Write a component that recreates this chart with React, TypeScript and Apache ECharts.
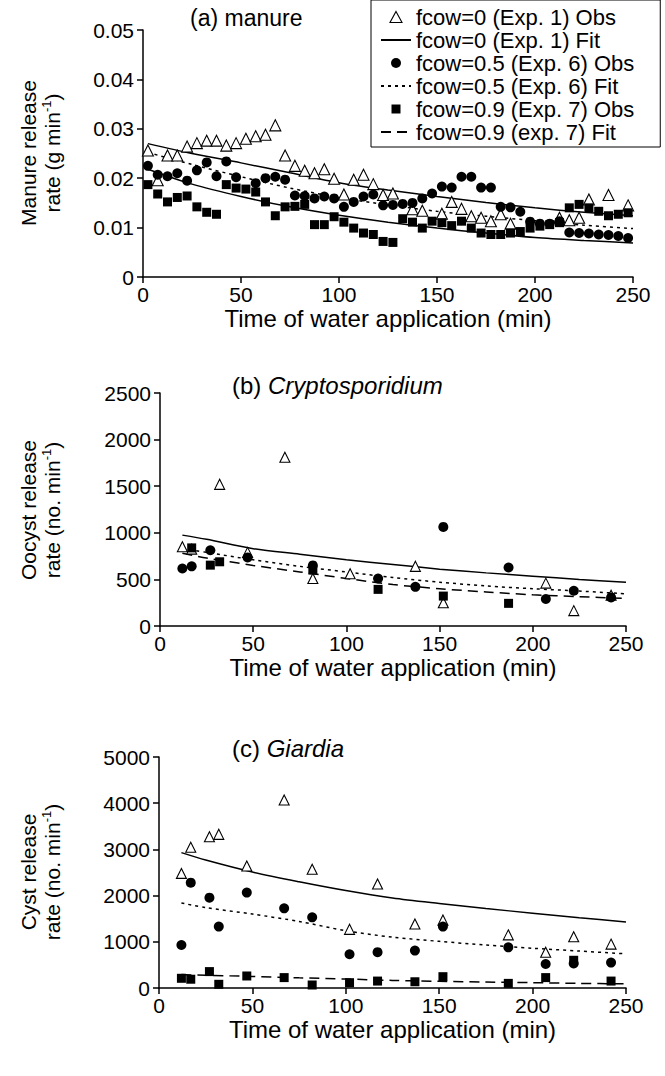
import React, { useEffect, useRef } from 'react';
import * as echarts from 'echarts';

const FONT = '"Liberation Sans", Arial, Helvetica, sans-serif';

// ---------- Panel (a) manure ----------
const manureT0 = [2.5, 7.5, 12.5, 17.5, 22.5, 27.5, 32.5, 37.5, 42.5, 47.5, 52.5, 57.5, 62.5, 67.5, 72.5, 77.5, 82.5, 87.5, 92.5, 97.5, 102.5, 107.5, 112.5, 117.5, 122.5, 127.5, 137.5, 142.5, 152.5, 157.5, 162.5, 167.5, 172.5, 177.5, 182.5, 187.5, 212.5, 217.5, 222.5, 227.5, 237.5, 247.5];
const manureObs0 = [0.0256, 0.0196, 0.0246, 0.0246, 0.0264, 0.0271, 0.0276, 0.0276, 0.0266, 0.0271, 0.0280, 0.0285, 0.0288, 0.0307, 0.0246, 0.0225, 0.0215, 0.0210, 0.0218, 0.0199, 0.0167, 0.0197, 0.0207, 0.0188, 0.0166, 0.0169, 0.0137, 0.0134, 0.0128, 0.0152, 0.0138, 0.0123, 0.0120, 0.0113, 0.0127, 0.0108, 0.0120, 0.0115, 0.0120, 0.0157, 0.0166, 0.0145];

const manureT05 = [2.5, 7.5, 12.5, 17.5, 22.5, 27.5, 32.5, 37.5, 42.5, 47.5, 57.5, 62.5, 67.5, 72.5, 77.5, 82.5, 87.5, 92.5, 97.5, 102.5, 107.5, 112.5, 117.5, 122.5, 127.5, 132.5, 137.5, 142.5, 147.5, 152.5, 157.5, 162.5, 167.5, 172.5, 177.5, 182.5, 187.5, 192.5, 197.5, 202.5, 207.5, 212.5, 217.5, 222.5, 227.5, 232.5, 237.5, 242.5, 247.5];
const manureObs05 = [0.0225, 0.0207, 0.0204, 0.0210, 0.0195, 0.0216, 0.0232, 0.0204, 0.0234, 0.0202, 0.0190, 0.0200, 0.0203, 0.0197, 0.0165, 0.0164, 0.0159, 0.0163, 0.0159, 0.0142, 0.0152, 0.0163, 0.0167, 0.0145, 0.0146, 0.0148, 0.0150, 0.0159, 0.0169, 0.0183, 0.0181, 0.0203, 0.0203, 0.0181, 0.0181, 0.0142, 0.0141, 0.0132, 0.0112, 0.0108, 0.0108, 0.0113, 0.0090, 0.0089, 0.0088, 0.0086, 0.0085, 0.0083, 0.0079];

const manureT09 = [2.5, 7.5, 12.5, 17.5, 22.5, 27.5, 32.5, 37.5, 42.5, 47.5, 52.5, 57.5, 62.5, 67.5, 72.5, 77.5, 82.5, 87.5, 92.5, 97.5, 102.5, 107.5, 112.5, 117.5, 122.5, 127.5, 132.5, 137.5, 142.5, 147.5, 152.5, 157.5, 162.5, 167.5, 172.5, 177.5, 182.5, 187.5, 192.5, 197.5, 202.5, 207.5, 212.5, 217.5, 222.5, 227.5, 232.5, 237.5, 242.5, 247.5];
const manureObs09 = [0.0187, 0.0168, 0.0152, 0.0161, 0.0164, 0.0142, 0.0131, 0.0127, 0.0187, 0.0180, 0.0178, 0.0172, 0.0152, 0.0124, 0.0142, 0.0143, 0.0147, 0.0106, 0.0106, 0.0122, 0.0111, 0.0099, 0.0089, 0.0086, 0.0072, 0.0070, 0.0118, 0.0111, 0.0099, 0.0113, 0.0110, 0.0104, 0.0113, 0.0099, 0.0089, 0.0086, 0.0086, 0.0089, 0.0092, 0.0099, 0.0103, 0.0106, 0.0110, 0.0140, 0.0147, 0.0140, 0.0133, 0.0124, 0.0127, 0.0130];

const manureFitT = [2.5, 25, 50, 75, 100, 125, 150, 175, 200, 225, 250];
const manureFit0 = [0.0270, 0.0250, 0.0231, 0.0211, 0.0191, 0.0176, 0.0163, 0.0151, 0.0140, 0.0131, 0.0124];
const manureFit05 = [0.0252, 0.0228, 0.0203, 0.0180, 0.0161, 0.0146, 0.0133, 0.0123, 0.0114, 0.0105, 0.0098];
const manureFit09 = [0.0218, 0.0188, 0.0163, 0.0142, 0.0125, 0.0111, 0.0099, 0.0089, 0.0080, 0.0074, 0.0069];

// ---------- Panel (b) Cryptosporidium ----------
const cryptoT0 = [12, 17, 32, 47, 67, 82, 102, 137, 152, 207, 222, 242];
const cryptoObs0 = [850, 825, 1520, 790, 1810, 510, 560, 640, 250, 460, 165, 330];
const cryptoT05 = [12, 17, 27, 47, 82, 117, 137, 152, 187, 207, 222, 242];
const cryptoObs05 = [617, 640, 813, 735, 650, 510, 420, 1063, 628, 290, 378, 307];
const cryptoT09 = [17, 27, 32, 82, 117, 152, 187];
const cryptoObs09 = [838, 653, 689, 600, 393, 321, 243];

const fitT = [12, 25, 50, 75, 100, 125, 150, 175, 200, 225, 250];
const cryptoFit0 = [975, 930, 830, 770, 710, 660, 610, 570, 535, 500, 470];
const cryptoFit05 = [830, 790, 710, 640, 580, 520, 470, 430, 400, 375, 345];
const cryptoFit09 = [780, 730, 650, 580, 510, 445, 400, 365, 335, 315, 295];

// ---------- Panel (c) Giardia ----------
const giardiaT = [12, 17, 27, 32, 47, 67, 82, 102, 117, 137, 152, 187, 207, 222, 242];
const giardiaObs0 = [2480, 3045, 3275, 3326, 2640, 4070, 2570, 1270, 2250, 1385, 1470, 1150, 775, 1110, 950];
const giardiaObs05 = [930, 2280, 1955, 1330, 2065, 1725, 1530, 730, 775, 810, 1330, 880, 520, 530, 550];
const giardiaObs09 = [210, 190, 355, 80, 260, 225, 65, 115, 150, 135, 245, 100, 225, 600, 150];
const giardiaFit0 = [2930, 2770, 2510, 2300, 2110, 1950, 1830, 1720, 1620, 1520, 1430];
const giardiaFit05 = [1840, 1740, 1600, 1440, 1240, 1100, 1010, 930, 860, 800, 740];
const giardiaFit09 = [290, 275, 250, 220, 195, 165, 145, 130, 115, 100, 90];

const names = [
  'fcow=0 (Exp. 1) Obs',
  'fcow=0 (Exp. 1) Fit',
  'fcow=0.5 (Exp. 6) Obs',
  'fcow=0.5 (Exp. 6) Fit',
  'fcow=0.9 (Exp. 7) Obs',
  'fcow=0.9 (exp. 7) Fit',
];

const xTitle = 'Time of water application (min)';

const DOT: number[] = [3, 4];
const DASH: number[] = [10, 6];

// legend icons: 30x12 box (corner moveTo points) so nothing is stretched
const ICON_TRI = 'path://M0,0M30,12M15,0.5L21,11.5L9,11.5Z';
const ICON_CIRCLE = 'path://M0,0M30,12M15,1A5,5 0 1,1 15,11A5,5 0 1,1 15,1Z';
const ICON_RECT = 'path://M0,0M30,12M10.5,1.5L19.5,1.5L19.5,10.5L10.5,10.5Z';

function zip(t: number[], v: number[]) {
  return t.map((x, i) => [x, v[i]]);
}

function obs(name: string, gi: number, t: number[], v: number[], kind: string, size: number) {
  const tri = kind === 'triangle';
  return {
    type: 'scatter',
    name,
    xAxisIndex: gi,
    yAxisIndex: gi,
    data: zip(t, v),
    symbol: kind,
    symbolSize: size,
    itemStyle: {
      color: tri ? '#fff' : '#000',
      borderColor: '#000',
      borderWidth: tri ? 1.1 : 0,
      opacity: 1,
    },
    emphasis: { disabled: true },
  };
}

function fit(name: string, gi: number, t: number[], v: number[], dash: any) {
  return {
    type: 'line',
    name,
    xAxisIndex: gi,
    yAxisIndex: gi,
    data: zip(t, v),
    symbol: 'none',
    showSymbol: false,
    smooth: 0.3,
    lineStyle: { color: '#000', width: 1.5, type: dash },
    itemStyle: { color: '#000' },
    emphasis: { disabled: true },
    z: 1,
  };
}

const axisCommon = {
  axisLine: { show: true, onZero: false, lineStyle: { color: '#000', width: 1.5 } },
  axisTick: { show: true, length: 6, lineStyle: { color: '#000', width: 1.5 } },
  splitLine: { show: false },
};

function xAxis(gi: number) {
  return {
    ...axisCommon,
    type: 'value',
    gridIndex: gi,
    min: 0,
    max: 250,
    interval: 50,
    axisLabel: { color: '#000', fontSize: 21, fontFamily: FONT, margin: 7 },
    name: xTitle,
    nameLocation: 'middle',
    nameGap: 29,
    nameTextStyle: { color: '#000', fontSize: 24, fontFamily: FONT },
  };
}

function yAxis(gi: number, max: number, interval: number, fmt: (v: number) => string) {
  return {
    ...axisCommon,
    type: 'value',
    gridIndex: gi,
    min: 0,
    max,
    interval,
    axisLabel: { color: '#000', fontSize: 21, fontFamily: FONT, margin: 9, formatter: fmt },
  };
}

function yName(text: string, cx: number, cy: number) {
  return {
    type: 'text',
    x: cx,
    y: cy,
    rotation: Math.PI / 2,
    style: {
      text,
      x: 0,
      y: 0,
      align: 'center',
      verticalAlign: 'middle',
      fill: '#000',
      fontSize: 21,
      fontFamily: FONT,
      lineHeight: 24,
      rich: {
        sup: { fontSize: 13, fontFamily: FONT, verticalAlign: 'top', lineHeight: 24, fill: '#000' },
      },
    },
  };
}

function title(text: string, x: number, y: number, size: number) {
  return {
    type: 'text',
    x,
    y,
    style: {
      text,
      align: 'left',
      verticalAlign: 'middle',
      fill: '#000',
      fontSize: size,
      fontFamily: FONT,
      rich: {
        i: { fontStyle: 'italic', fontSize: size, fontFamily: FONT, fill: '#000' },
      },
    },
  };
}

const plainNum = (v: number) => String(v);
const hideSym = { color: 'rgba(0,0,0,0)', borderColor: 'rgba(0,0,0,0)', borderWidth: 0 };

export default function App() {
  const ref = useRef<HTMLDivElement>(null);
  useEffect(() => {
    if (!ref.current) return;
    const chart = echarts.init(ref.current, undefined, { renderer: 'svg' });
    const option: any = {
      animation: false,
      backgroundColor: '#fff',
      textStyle: { fontFamily: FONT, color: '#000' },
      grid: [
        { left: 143, top: 30, width: 490, height: 247 },
        { left: 160, top: 393, width: 466, height: 233 },
        { left: 159, top: 757, width: 467, height: 231 },
      ],
      xAxis: [xAxis(0), xAxis(1), xAxis(2)],
      yAxis: [
        yAxis(0, 0.05, 0.01, (v: number) => (v === 0 ? '0' : v.toFixed(2))),
        yAxis(1, 2500, 500, plainNum),
        yAxis(2, 5000, 1000, plainNum),
      ],
      legend: {
        left: 371,
        top: 0,
        orient: 'vertical',
        itemWidth: 30,
        itemHeight: 12,
        itemGap: 1,
        padding: [6, 26, 4, 9],
        borderColor: '#000',
        borderWidth: 1,
        backgroundColor: '#fff',
        selectedMode: false,
        textStyle: { color: '#000', fontSize: 22, fontFamily: FONT, lineHeight: 22 },
        data: [
          { name: names[0], icon: ICON_TRI, itemStyle: { color: '#fff', borderColor: '#000', borderWidth: 1.1 } },
          { name: names[1], itemStyle: hideSym },
          { name: names[2], icon: ICON_CIRCLE, itemStyle: { color: '#000', borderWidth: 0 } },
          { name: names[3], itemStyle: hideSym },
          { name: names[4], icon: ICON_RECT, itemStyle: { color: '#000', borderWidth: 0 } },
          { name: names[5], itemStyle: hideSym, lineStyle: { type: DASH } },
        ],
        z: 10,
      },
      graphic: [
        title('(a) manure', 190, 18, 23),
        title('(b) {i|Cryptosporidium}', 232, 385, 24),
        title('(c) {i|Giardia}', 232, 748, 24),
        yName('Manure release\nrate (g min{sup|-1})', 40, 153),
        yName('Oocyst release\nrate (no. min{sup|-1})', 40, 510),
        yName('Cyst release\nrate (no. min{sup|-1})', 40, 872),
      ],
      series: [
        fit(names[1], 0, manureFitT, manureFit0, 'solid'),
        fit(names[3], 0, manureFitT, manureFit05, DOT),
        fit(names[5], 0, manureFitT, manureFit09, 'solid'),
        obs(names[0], 0, manureT0, manureObs0, 'triangle', 11),
        obs(names[2], 0, manureT05, manureObs05, 'circle', 10),
        obs(names[4], 0, manureT09, manureObs09, 'rect', 9),

        fit(names[1], 1, fitT, cryptoFit0, 'solid'),
        fit(names[3], 1, fitT, cryptoFit05, DOT),
        fit(names[5], 1, fitT, cryptoFit09, DASH),
        obs(names[0], 1, cryptoT0, cryptoObs0, 'triangle', 10),
        obs(names[2], 1, cryptoT05, cryptoObs05, 'circle', 10),
        obs(names[4], 1, cryptoT09, cryptoObs09, 'rect', 9),

        fit(names[1], 2, fitT, giardiaFit0, 'solid'),
        fit(names[3], 2, fitT, giardiaFit05, DOT),
        fit(names[5], 2, fitT, giardiaFit09, DASH),
        obs(names[0], 2, giardiaT, giardiaObs0, 'triangle', 10),
        obs(names[2], 2, giardiaT, giardiaObs05, 'circle', 10),
        obs(names[4], 2, giardiaT, giardiaObs09, 'rect', 9),
      ],
    };
    chart.setOption(option);
    return () => chart.dispose();
  }, []);
  return (
    <div
      ref={ref}
      style={{ position: 'absolute', left: 0, top: 0, width: 665, height: 1076, background: '#fff' }}
    />
  );
}
